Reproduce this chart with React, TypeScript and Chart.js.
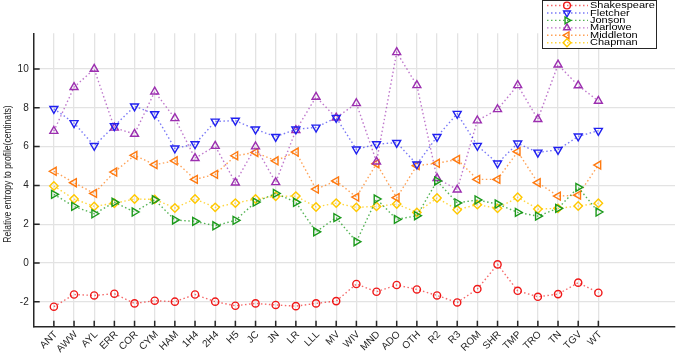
import React, { useEffect, useRef } from "react";
import { Chart, registerables } from "chart.js";

Chart.register(...registerables);

const plays = ["ANT","AWW","AYL","ERR","COR","CYM","HAM","1H4","2H4","H5","JC","JN","LR","LLL","MV","WIV","MND","ADO","OTH","R2","R3","ROM","SHR","TMP","TRO","TN","TGV","WT"];

const shakespeare = [-2.25,-1.62,-1.67,-1.58,-2.08,-1.94,-1.99,-1.62,-1.99,-2.2,-2.08,-2.16,-2.22,-2.08,-1.96,-1.08,-1.48,-1.13,-1.36,-1.67,-2.03,-1.34,-0.07,-1.43,-1.74,-1.6,-1.01,-1.53];
const fletcher = [7.95,7.22,6.05,7.06,8.08,7.68,5.91,6.13,7.3,7.34,6.89,6.51,6.89,6.99,7.49,5.86,6.13,6.2,5.09,6.51,7.7,6.05,5.14,6.17,5.7,5.84,6.53,6.82];
const jonson = [3.54,2.92,2.54,3.13,2.63,3.26,2.22,2.15,1.92,2.2,3.14,3.59,3.13,1.61,2.34,1.1,3.3,2.25,2.44,4.23,3.1,3.25,3.04,2.61,2.42,2.82,3.9,2.63];
const marlowe = [6.8,9.06,10.0,6.97,6.65,8.83,7.46,5.4,6.03,4.14,6.0,4.16,6.84,8.56,7.49,8.23,5.22,10.86,9.16,4.37,3.78,7.34,7.92,9.16,7.41,10.22,9.15,8.35];
const middleton = [4.73,4.14,3.59,4.69,5.55,5.07,5.27,4.31,4.57,5.53,5.7,5.27,5.72,3.81,4.23,3.4,5.12,3.37,5.02,5.14,5.34,4.31,4.31,5.74,4.14,3.45,3.5,5.05];
const chapman = [3.97,3.3,2.92,3.08,3.3,3.28,2.84,3.3,2.87,3.09,3.3,3.44,3.45,2.89,3.09,2.87,2.92,3.04,2.61,3.35,2.75,3.01,2.82,3.39,2.78,2.82,2.94,3.08];

const yTicks = [-2, 0, 2, 4, 6, 8, 10];
const yTitle = "Relative entropy to profile(centinats)";

type Series = { name: string; values: number[]; color: string; line: string; style: string; rot: number; r: number };

const series: Series[] = [
  { name: "Shakespeare", values: shakespeare, color: "#f01818", line: "rgba(240,24,24,0.65)", style: "circle", rot: 0, r: 3.6 },
  { name: "Fletcher", values: fletcher, color: "#2020f0", line: "rgba(32,32,240,0.6)", style: "triangle", rot: 180, r: 4.6 },
  { name: "Jonson", values: jonson, color: "#1c9a1c", line: "rgba(28,154,28,0.75)", style: "triangle", rot: 90, r: 4.6 },
  { name: "Marlowe", values: marlowe, color: "#9c2fb0", line: "rgba(156,47,176,0.65)", style: "triangle", rot: 0, r: 4.6 },
  { name: "Middleton", values: middleton, color: "#ff7a10", line: "rgba(255,122,16,0.7)", style: "triangle", rot: -90, r: 4.6 },
  { name: "Chapman", values: chapman, color: "#ffc800", line: "rgba(255,200,0,0.75)", style: "rectRot", rot: 0, r: 4.2 },
];

const FONT = "'Liberation Sans', Arial, sans-serif";

function drawMarker(ctx: CanvasRenderingContext2D, s: Series, x: number, y: number, r: number) {
  ctx.save();
  ctx.strokeStyle = s.color;
  ctx.lineWidth = 1.4;
  ctx.setLineDash([]);
  ctx.beginPath();
  if (s.style === "circle") {
    ctx.arc(x, y, r, 0, Math.PI * 2);
  } else if (s.style === "rectRot") {
    ctx.moveTo(x, y - r);
    ctx.lineTo(x + r, y);
    ctx.lineTo(x, y + r);
    ctx.lineTo(x - r, y);
    ctx.closePath();
  } else {
    const rad = (s.rot * Math.PI) / 180;
    for (let k = 0; k < 3; k++) {
      const a = rad + (k * 2 * Math.PI) / 3;
      const px = x + Math.sin(a) * r;
      const py = y - Math.cos(a) * r;
      if (k === 0) ctx.moveTo(px, py);
      else ctx.lineTo(px, py);
    }
    ctx.closePath();
  }
  ctx.stroke();
  ctx.restore();
}

const axisPlugin = {
  id: "matlabAxes",
  afterDatasetsDraw(chart: any) {
    const ctx = chart.ctx as CanvasRenderingContext2D;
    const { left, bottom, top } = chart.chartArea;
    const xs = chart.scales.x;
    const ys = chart.scales.y;
    ctx.save();
    ctx.strokeStyle = "#262626";
    ctx.lineWidth = 1.5;
    ctx.beginPath();
    ys.ticks.forEach((t: any) => {
      const py = ys.getPixelForValue(t.value);
      ctx.moveTo(left, py);
      ctx.lineTo(left + 6, py);
    });
    xs.ticks.forEach((t: any) => {
      const px = xs.getPixelForValue(t.value);
      ctx.moveTo(px, bottom);
      ctx.lineTo(px, bottom - 6);
    });
    ctx.stroke();
    // y-axis title (condensed along its length, as in the reference)
    ctx.fillStyle = "#262626";
    ctx.font = `11px ${FONT}`;
    ctx.textAlign = "center";
    ctx.textBaseline = "middle";
    ctx.translate(7.5, (top + bottom) / 2 - 6);
    ctx.rotate(-Math.PI / 2);
    ctx.scale(0.78, 1);
    ctx.fillText(yTitle, 0, 0);
    ctx.restore();
  },
  afterDraw(chart: any) {
    const ctx = chart.ctx as CanvasRenderingContext2D;
    const bx = 542.5, by = 0.5, bw = 114, bh = 48;
    ctx.save();
    ctx.fillStyle = "#ffffff";
    ctx.fillRect(bx, by, bw, bh);
    ctx.strokeStyle = "#262626";
    ctx.lineWidth = 1;
    ctx.strokeRect(bx, by, bw, bh);
    series.forEach((s, i) => {
      const y = 5.5 + i * 7.45;
      ctx.strokeStyle = s.line;
      ctx.lineWidth = 1.4;
      ctx.setLineDash([1.5, 2.5]);
      ctx.beginPath();
      ctx.moveTo(547, y);
      ctx.lineTo(588, y);
      ctx.stroke();
      ctx.setLineDash([]);
      drawMarker(ctx, s, 567, y, s.style === "circle" ? 3.4 : 3.9);
      ctx.save();
      ctx.fillStyle = "#000000";
      ctx.font = `11px ${FONT}`;
      ctx.textBaseline = "middle";
      ctx.textAlign = "left";
      ctx.translate(590, y + 0.3);
      ctx.scale(1, 0.76);
      ctx.fillText(s.name, 0, 0);
      ctx.restore();
    });
    ctx.restore();
  },
};

export default function App() {
  const ref = useRef<HTMLCanvasElement | null>(null);
  useEffect(() => {
    document.body.style.margin = "0";
    const canvas = ref.current;
    if (!canvas) return;
    const chart = new Chart(canvas, {
      type: "line",
      data: {
        datasets: series.map((s) => ({
          label: s.name,
          data: s.values.map((v, i) => ({ x: i + 1, y: v })),
          borderColor: s.line,
          borderWidth: 1.4,
          borderDash: [1.5, 2.5],
          backgroundColor: "transparent",
          pointStyle: s.style as any,
          pointRotation: s.rot,
          pointRadius: s.r,
          pointBorderWidth: 1.4,
          pointBorderColor: s.color,
          pointBackgroundColor: "rgba(0,0,0,0)",
          fill: false,
          tension: 0,
        })),
      },
      plugins: [axisPlugin],
      options: {
        animation: false,
        responsive: false,
        devicePixelRatio: 1,
        layout: { padding: { top: 33.3, right: 0, left: 0, bottom: 0 } },
        plugins: { legend: { display: false }, tooltip: { enabled: false } },
        scales: {
          x: {
            type: "linear",
            min: 0,
            max: 31.8,
            afterBuildTicks: (scale: any) => {
              scale.ticks = plays.map((_, i) => ({ value: i + 1 }));
            },
            afterFit: (scale: any) => {
              scale.height = 26.3;
            },
            ticks: {
              autoSkip: false,
              maxRotation: 45,
              minRotation: 45,
              padding: 2,
              labelOffset: 2,
              color: "#262626",
              font: { family: FONT, size: 10 },
              callback: (v: any) => plays[Math.round(Number(v)) - 1] ?? "",
            },
            grid: { color: "#e3e3e3", lineWidth: 1.3, drawTicks: false },
            border: { display: true, color: "#262626", width: 1.5 },
          },
          y: {
            type: "linear",
            min: -3.28,
            max: 11.84,
            afterBuildTicks: (scale: any) => {
              scale.ticks = yTicks.map((v) => ({ value: v }));
            },
            afterFit: (scale: any) => {
              scale.width = 33.7;
            },
            ticks: {
              padding: 5,
              color: "#262626",
              font: { family: FONT, size: 10 },
              callback: (v: any) => String(v),
            },
            grid: { color: "#e3e3e3", lineWidth: 1.3, drawTicks: false },
            border: { display: true, color: "#262626", width: 1.5 },
          },
        },
      },
    });
    return () => chart.destroy();
  }, []);
  return (
    <canvas
      ref={ref}
      width={681}
      height={353}
      style={{ position: "absolute", left: 0, top: 0, width: 681, height: 353, display: "block" }}
    />
  );
}
